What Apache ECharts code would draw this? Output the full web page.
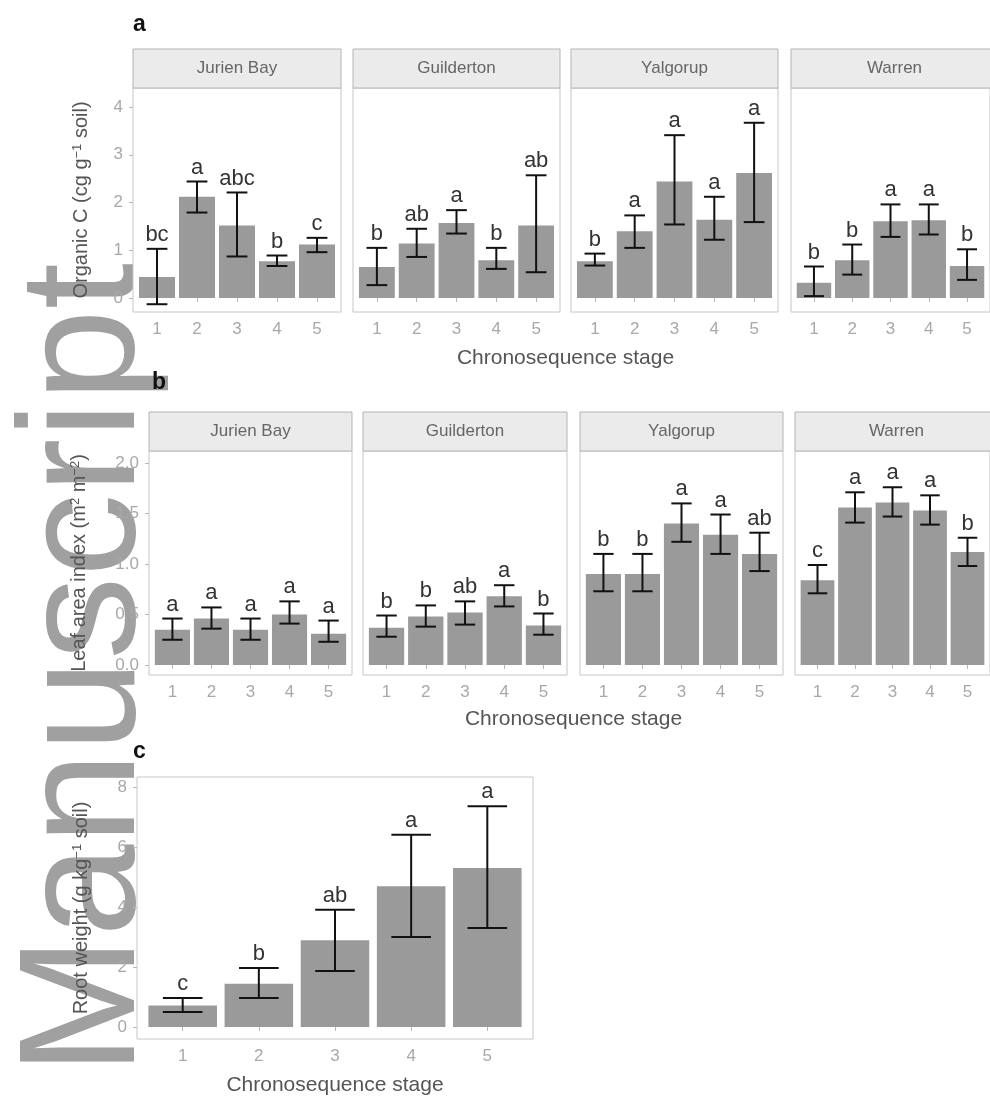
<!DOCTYPE html>
<html><head><meta charset="utf-8">
<script src="https://cdn.jsdelivr.net/npm/echarts@6/dist/echarts.min.js"></script>
<style>html,body{margin:0;padding:0;background:#fff}#c{width:990px;height:1099px}</style>
</head><body><div id="c"></div>
<script>
// ---------------- DATA ----------------
const sites = ['Jurien Bay', 'Guilderton', 'Yalgorup', 'Warren'];
const stages = [1, 2, 3, 4, 5];

// Panel a: Organic C (cg g-1 soil), per site
const ocMean = [[0.44, 2.12, 1.52, 0.77, 1.12], [0.65, 1.14, 1.57, 0.79, 1.52], [0.77, 1.40, 2.44, 1.64, 2.62], [0.32, 0.79, 1.61, 1.63, 0.67]];
const ocLow  = [[-0.13, 1.79, 0.87, 0.67, 0.96], [0.27, 0.86, 1.35, 0.61, 0.54], [0.68, 1.05, 1.54, 1.22, 1.59], [0.04, 0.49, 1.28, 1.33, 0.38]];
const ocHigh = [[1.03, 2.44, 2.21, 0.89, 1.26], [1.05, 1.45, 1.84, 1.05, 2.57], [0.93, 1.73, 3.41, 2.12, 3.67], [0.66, 1.12, 1.96, 1.96, 1.02]];
const ocLetters = [['bc', 'a', 'abc', 'b', 'c'], ['b', 'ab', 'a', 'b', 'ab'], ['b', 'a', 'a', 'a', 'a'], ['b', 'b', 'a', 'a', 'b']];
const ocTicks = [0, 1, 2, 3, 4];

// Panel b: Leaf area index (m2 m-2), per site
const laiMean = [[0.35, 0.46, 0.35, 0.50, 0.31], [0.37, 0.48, 0.52, 0.68, 0.39], [0.90, 0.90, 1.40, 1.29, 1.10], [0.84, 1.56, 1.61, 1.53, 1.12]];
const laiLow  = [[0.25, 0.36, 0.25, 0.41, 0.23], [0.28, 0.38, 0.40, 0.58, 0.30], [0.73, 0.73, 1.22, 1.10, 0.93], [0.71, 1.41, 1.47, 1.39, 0.98]];
const laiHigh = [[0.46, 0.57, 0.46, 0.63, 0.44], [0.49, 0.59, 0.63, 0.79, 0.51], [1.10, 1.10, 1.60, 1.49, 1.31], [0.99, 1.71, 1.76, 1.68, 1.26]];
const laiLetters = [['a', 'a', 'a', 'a', 'a'], ['b', 'b', 'ab', 'a', 'b'], ['b', 'b', 'a', 'a', 'ab'], ['c', 'a', 'a', 'a', 'b']];
const laiTicks = [0, 0.5, 1.0, 1.5, 2.0];

// Panel c: Root weight (g kg-1 soil)
const rootMean = [0.72, 1.44, 2.89, 4.69, 5.30];
const rootLow  = [0.50, 0.97, 1.87, 3.00, 3.30];
const rootHigh = [0.97, 1.97, 3.91, 6.41, 7.36];
const rootLetters = ['c', 'b', 'ab', 'a', 'a'];
const rootTicks = [0, 2, 4, 6, 8];

const xTitle = 'Chronosequence stage';
const panelTags = ['a', 'b', 'c'];
const watermark = 'Manuscript';

// ---------------- STYLE / LAYOUT ----------------
const FONT = '"Liberation Sans", Arial, Helvetica, sans-serif';
const BAR = '#9a9a9a';
const TICKC = '#a8a8a8';
const TITLEC = '#555555';

function makeRender(letters) {
  return function (params, api) {
    const x = api.value(0), m = api.value(1), lo = api.value(2), hi = api.value(3);
    const p0 = api.coord([x - 0.45, m]);
    const p1 = api.coord([x + 0.45, 0]);
    const top = api.coord([x, hi]);
    const bot = api.coord([x, lo]);
    const cl = api.coord([x - 0.26, hi])[0];
    const cr = api.coord([x + 0.26, hi])[0];
    const ls = { stroke: '#111', lineWidth: 2 };
    return {
      type: 'group',
      children: [
        { type: 'rect', shape: { x: p0[0], y: p0[1], width: p1[0] - p0[0], height: p1[1] - p0[1] }, style: { fill: BAR } },
        { type: 'line', shape: { x1: top[0], y1: top[1], x2: bot[0], y2: bot[1] }, style: ls },
        { type: 'line', shape: { x1: cl, y1: top[1], x2: cr, y2: top[1] }, style: ls },
        { type: 'line', shape: { x1: cl, y1: bot[1], x2: cr, y2: bot[1] }, style: ls },
        { type: 'text', x: top[0], y: top[1] - 3, style: { text: letters[params.dataIndex], align: 'center', verticalAlign: 'bottom', fontSize: 22, fontFamily: FONT, fill: '#333' } }
      ]
    };
  };
}

const rows = [
  { mean: ocMean, low: ocLow, high: ocHigh, letters: ocLetters, ticks: ocTicks, fmt: v => String(v),
    min: -0.293, max: 4.398, top: 88, height: 224, lefts: [133, 353, 571, 791], widths: [208, 207, 207, 207], stripTop: 49,
    name: '{t|Organic C (cg g}{s|−1}{t| soil)}', nameGap: 42, xTitleY: 358 },
  { mean: laiMean, low: laiLow, high: laiHigh, letters: laiLetters, ticks: laiTicks, fmt: v => v.toFixed(1),
    min: -0.099, max: 2.119, top: 451, height: 224, lefts: [149, 363, 580, 795], widths: [203, 204, 203, 203], stripTop: 412,
    name: '{t|Leaf area index (m}{s|2}{t| m}{s|−2}{t|)}', nameGap: 60, xTitleY: 719 }
];

const grid = [], xAxis = [], yAxis = [], series = [], graphic = [];
const richName = { t: { fontSize: 20, fontFamily: FONT, color: TITLEC }, s: { fontSize: 13, fontFamily: FONT, color: TITLEC, verticalAlign: 'top' } };

function addPanel(gi, g, data, letters, ticks, fmt, min, max, showY, name, nameGap) {
  grid.push({ left: g.left, top: g.top, width: g.width, height: g.height, show: true, borderColor: '#c6c6c6', borderWidth: 1, backgroundColor: '#fff' });
  xAxis.push({
    type: 'value', gridIndex: gi, min: 0.4, max: 5.6,
    axisLine: { show: false }, splitLine: { show: false },
    axisTick: { show: true, customValues: stages, length: 4, lineStyle: { color: '#b8b8b8' } },
    axisLabel: { customValues: stages, margin: 9, fontSize: 17, fontFamily: FONT, color: TICKC }
  });
  yAxis.push({
    type: 'value', gridIndex: gi, min: min, max: max,
    axisLine: { show: false }, splitLine: { show: false },
    axisTick: { show: showY, customValues: ticks, length: 4, lineStyle: { color: '#b8b8b8' } },
    axisLabel: { show: showY, customValues: ticks, margin: 10, fontSize: 17, fontFamily: FONT, color: TICKC, formatter: fmt },
    name: showY ? name : '', nameLocation: 'middle', nameGap: nameGap, nameTextStyle: { rich: richName }
  });
  series.push({
    type: 'custom', xAxisIndex: gi, yAxisIndex: gi, clip: false,
    data: data, encode: { x: 0, y: [1, 2, 3] }, renderItem: makeRender(letters)
  });
}

let gi = 0;
rows.forEach(r => {
  sites.forEach((site, s) => {
    const g = { left: r.lefts[s], top: r.top, width: r.widths[s], height: r.height };
    const data = stages.map((st, k) => [st, r.mean[s][k], r.low[s][k], r.high[s][k]]);
    addPanel(gi, g, data, r.letters[s], r.ticks, r.fmt, r.min, r.max, s === 0, r.name, r.nameGap);
    gi++;
    const sh = r.top - r.stripTop;
    graphic.push({ type: 'rect', z: 5, shape: { x: g.left, y: r.stripTop, width: g.width, height: sh }, style: { fill: '#ebebeb', stroke: '#b4b4b4', lineWidth: 1 } });
    graphic.push({ type: 'text', z: 6, x: g.left + g.width / 2, y: r.stripTop + sh / 2, style: { text: site, align: 'center', verticalAlign: 'middle', fontSize: 17, fontFamily: FONT, fill: '#666' } });
  });
  const l0 = r.lefts[0], l3 = r.lefts[3] + r.widths[3];
  graphic.push({ type: 'text', z: 6, x: (l0 + l3) / 2, y: r.xTitleY, style: { text: xTitle, align: 'center', verticalAlign: 'middle', fontSize: 21, fontFamily: FONT, fill: TITLEC } });
});

// panel c
{
  const g = { left: 137, top: 777, width: 396, height: 262 };
  const data = stages.map((st, k) => [st, rootMean[k], rootLow[k], rootHigh[k]]);
  addPanel(gi, g, data, rootLetters, rootTicks, v => String(v), -0.4, 8.333, true, '{t|Root weight (g kg}{s|−1}{t| soil)}', 46);
  graphic.push({ type: 'text', z: 6, x: g.left + g.width / 2, y: 1085, style: { text: xTitle, align: 'center', verticalAlign: 'middle', fontSize: 21, fontFamily: FONT, fill: TITLEC } });
}

// panel tags
[[133, 25], [152, 383], [133, 752]].forEach((p, i) => {
  graphic.push({ type: 'text', z: 20, x: p[0], y: p[1], style: { text: panelTags[i], align: 'left', verticalAlign: 'middle', fontSize: 23, fontWeight: 'bold', fontFamily: FONT, fill: '#111' } });
});

// watermark
graphic.push({ type: 'text', z: -10, x: 88, y: 1075, rotation: Math.PI / 2,
  style: { text: watermark, align: 'left', verticalAlign: 'middle', fontSize: 166, fontFamily: FONT, fill: '#a0a0a0' } });

const chart = echarts.init(document.getElementById('c'), null, { renderer: 'canvas' });
chart.setOption({ animation: false, backgroundColor: '#fff', grid, xAxis, yAxis, series, graphic });
</script>
</body></html>
